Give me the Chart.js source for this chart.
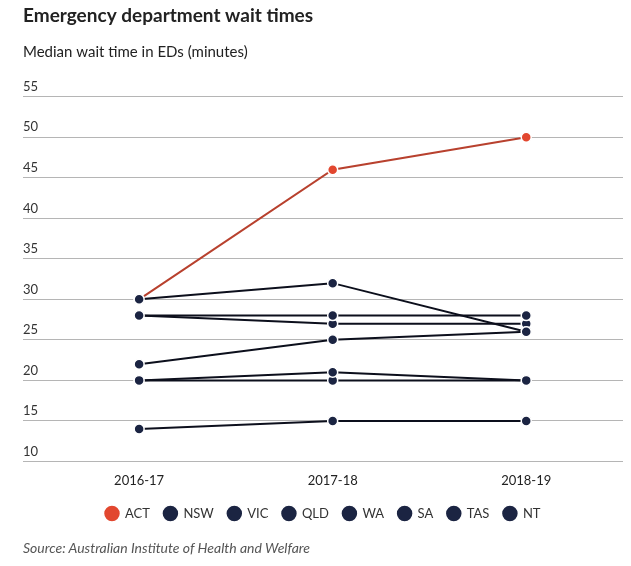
<!DOCTYPE html>
<html lang="en">
<head>
    <meta charset="UTF-8">
    <title>Emergency department wait times</title>
    <script src="https://cdn.jsdelivr.net/npm/chart.js"></script>
    <style>
        body { margin: 0; background: #fff; font-family: Lato, sans-serif; }
        #wrap { position: relative; width: 631px; height: 566px; }
        .source { position: absolute; left: 23px; top: 539px; font-size: 14px; font-style: italic; color: #555; }
    </style>
</head>
<body>
    <div id="wrap">
        <canvas id="chart" width="631" height="566"></canvas>
        <div class="source">Source: Australian Institute of Health and Welfare</div>
    </div>

    <script>
        const years = ['2016-17', '2017-18', '2018-19'];
        const act = [30, 46, 50];
        const nsw = [20, 21, 20];
        const vic = [20, 20, 20];
        const qld = [14, 15, 15];
        const wa = [28, 28, 28];
        const sa = [22, 25, 26];
        const tas = [30, 32, 26];
        const nt = [28, 27, 27];

        const navy = '#1b2442';

        function makeSet(label, values, lineColor, pointColor) {
            return {
                label: label,
                data: values.map((v, i) => ({ x: i, y: v })),
                borderColor: lineColor,
                backgroundColor: pointColor,
                pointBackgroundColor: pointColor,
                pointBorderColor: '#fff',
                pointBorderWidth: 1.5,
                pointRadius: 5,
                borderWidth: 2,
                pointStyle: 'circle'
            };
        }

        const datasets = [
            makeSet('ACT', act, '#b8412e', '#e2472f'),
            makeSet('NSW', nsw, '#0c0f1c', navy),
            makeSet('VIC', vic, '#0c0f1c', navy),
            makeSet('QLD', qld, '#0c0f1c', navy),
            makeSet('WA', wa, '#0c0f1c', navy),
            makeSet('SA', sa, '#0c0f1c', navy),
            makeSet('TAS', tas, '#0c0f1c', navy),
            makeSet('NT', nt, '#0c0f1c', navy)
        ];
        // ACT sits behind the others (its first point is covered in the original)
        datasets[0].order = 1;

        new Chart(document.getElementById('chart'), {
            type: 'line',
            data: { datasets: datasets },
            options: {
                responsive: false,
                animation: false,
                layout: { padding: { left: 23, right: 8, top: 0, bottom: 36 } },
                plugins: {
                    title: {
                        display: true, text: 'Emergency department wait times', align: 'start',
                        color: '#222', font: { family: 'Lato', size: 19, weight: 'bold' },
                        padding: { top: 4, bottom: 8 }
                    },
                    subtitle: {
                        display: true, text: 'Median wait time in EDs (minutes)', align: 'start',
                        color: '#222', font: { family: 'Lato', size: 15 },
                        padding: { top: 8, bottom: 36 }
                    },
                    legend: {
                        position: 'bottom',
                        labels: {
                            usePointStyle: true, boxHeight: 12, color: '#333', padding: 14,
                            font: { family: 'Lato', size: 13 },
                            sort: (a, b) => a.datasetIndex - b.datasetIndex
                        }
                    },
                    tooltip: { enabled: false }
                },
                scales: {
                    x: {
                        type: 'linear', min: -0.6, max: 2.5,
                        grid: { display: false },
                        border: { display: false },
                        ticks: {
                            stepSize: 1, autoSkip: false, color: '#222', padding: 4,
                            font: { family: 'Lato', size: 13 },
                            callback: v => Number.isInteger(v) && years[v] ? years[v] : ''
                        }
                    },
                    y: {
                        min: 10, max: 55,
                        grid: { color: '#b5b5b5', drawTicks: false },
                        border: { display: false },
                        ticks: {
                            stepSize: 5, mirror: true, padding: 0, labelOffset: -10,
                            color: '#333', font: { family: 'Lato', size: 13 }
                        }
                    }
                }
            }
        });
    </script>
</body>
</html>
